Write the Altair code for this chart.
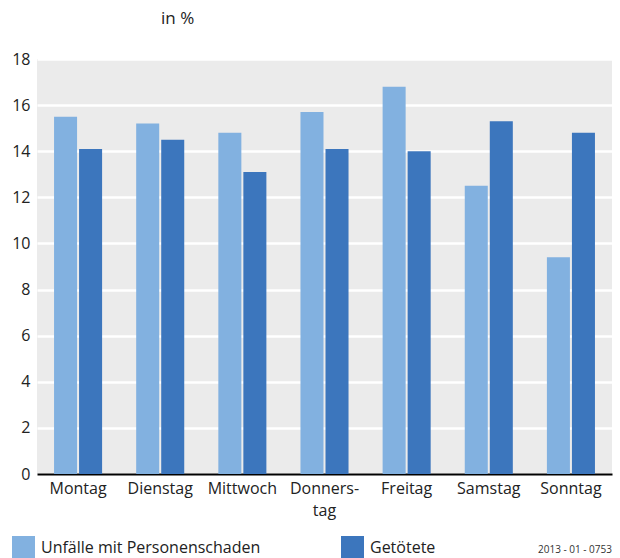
import altair as alt
import pandas as pd

# Share of accidents with personal injury and of people killed, by weekday
tage = ["Montag", "Dienstag", "Mittwoch", "Donnerstag", "Freitag", "Samstag", "Sonntag"]
unfaelle = [15.5, 15.2, 14.8, 15.7, 16.8, 12.5, 9.4]
getoetete = [14.1, 14.5, 13.1, 14.1, 14.0, 15.3, 14.8]
serien = ["Unfälle mit Personenschaden", "Getötete"]
farben = ["#82B1E0", "#3C76BD"]

rows = []
for i, tag in enumerate(tage):
    rows.append({"Tag": tag, "Serie": serien[0], "Wert": unfaelle[i]})
    rows.append({"Tag": tag, "Serie": serien[1], "Wert": getoetete[i]})
df = pd.DataFrame(rows)

FONT = "Open Sans"

bars = alt.Chart(df).mark_bar().encode(
    x=alt.X(
        "Tag:N",
        sort=tage,
        scale=alt.Scale(paddingInner=0.415, paddingOuter=0.2075),
        axis=alt.Axis(
            title=None,
            labelAngle=0,
            ticks=False,
            domain=True,
            domainColor="#000000",
            domainWidth=2,
            labelPadding=6,
            labelFontSize=16,
            labelColor="#222222",
            labelFont=FONT,
            labelExpr="datum.value == 'Donnerstag' ? ['Donners-', 'tag'] : datum.value",
            labelLineHeight=22,
        ),
    ),
    xOffset=alt.XOffset("Serie:N", sort=serien, scale=alt.Scale(paddingInner=0.08)),
    y=alt.Y(
        "Wert:Q",
        scale=alt.Scale(domain=[0, 18]),
        axis=alt.Axis(
            title=None,
            values=list(range(0, 19, 2)),
            ticks=False,
            domain=False,
            grid=True,
            gridColor="#FFFFFF",
            gridWidth=2.5,
            labelPadding=7,
            labelFontSize=16,
            labelColor="#222222",
            labelFont=FONT,
        ),
    ),
    color=alt.Color(
        "Serie:N",
        sort=serien,
        scale=alt.Scale(domain=serien, range=farben),
        legend=alt.Legend(
            title=None,
            orient="none",
            legendX=-25,
            legendY=477,
            direction="horizontal",
            symbolType="square",
            symbolSize=529,
            symbolStrokeWidth=0,
            symbolOpacity=1,
            labelFontSize=16,
            labelFont=FONT,
            labelColor="#222222",
            labelOffset=6,
            labelLimit=400,
            columnPadding=80,
        ),
    ),
)

quelle = alt.Chart(pd.DataFrame({"t": ["2013 - 01 - 0753"]})).mark_text(
    align="right", baseline="middle", fontSize=10, font=FONT, color="#333333"
).encode(text="t:N", x=alt.value(575), y=alt.value(491))

chart = alt.layer(bars, quelle).properties(
    width=575,
    height=415,
    autosize=alt.AutoSizeParams(type="none"),
    padding={"left": 37, "top": 59, "right": 8, "bottom": 84},
    title=alt.TitleParams(
        "in %", anchor="start", frame="group", dx=124, offset=23,
        fontSize=17, fontWeight="normal", font=FONT, color="#222222",
    ),
).configure_view(fill="#EBEBEB", stroke=None)

chart.save("out.html", embed_options={"renderer": "svg", "actions": False})
